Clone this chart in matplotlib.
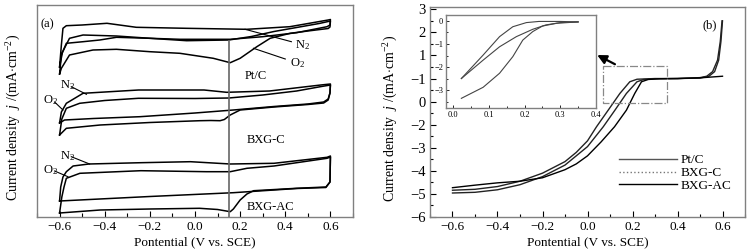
import matplotlib
matplotlib.use('Agg')
import matplotlib.pyplot as plt
from matplotlib.lines import Line2D
from matplotlib.ticker import MultipleLocator, FixedLocator, FixedFormatter

plt.rcParams['font.family'] = ['Liberation Serif', 'DejaVu Serif']
plt.rcParams['mathtext.fontset'] = 'custom'
plt.rcParams['mathtext.rm'] = 'Liberation Serif'
plt.rcParams['mathtext.it'] = 'Liberation Serif:italic'
plt.rcParams['font.size'] = 9


# (a) cyclic voltammograms, current in arbitrary offset units
ptc_n2_E = [-0.6, -0.592, -0.585, -0.57, -0.5, -0.39, -0.26, -0.04, 0.23, 0.42, 0.59, 0.6,
            0.598, 0.585, 0.45, 0.3, 0.156, -0.067, -0.2, -0.348, -0.496, -0.556, -0.587, -0.6]
ptc_n2_I = [150, 172, 188.7, 191.3, 192, 193.7, 189.7, 188.7, 187.7, 190.3, 197, 197.5,
            192, 190.3, 184.3, 180.3, 177.7, 177.7, 178.7, 181, 182, 178.7, 165, 150]
ptc_o2_E = [-0.6, -0.592, -0.57, -0.496, -0.422, -0.348, -0.2, -0.037, 0.15, 0.25, 0.35, 0.45, 0.55, 0.6,
            0.598, 0.59, 0.5, 0.422, 0.333, 0.274, 0.2, 0.156, 0.081, -0.067, -0.2, -0.348, -0.452, -0.556, -0.592, -0.6]
ptc_o2_I = [143, 162, 173.7, 175.3, 177, 179.7, 178.7, 176.3, 177, 180.5, 185.5, 189.5, 193.5, 196,
            190, 188.5, 186, 183.7, 178.7, 170.3, 158.7, 154.3, 158.7, 163.7, 165.3, 167.7, 167, 162, 148.7, 143]

bxgc_n2_E = [-0.6, -0.592, -0.57, -0.496, -0.25, 0.04, 0.14, 0.33, 0.557, 0.6,
             0.598, 0.59, 0.57, 0.5, 0.35, 0.17, 0.0, -0.244, -0.45, -0.578, -0.6]
bxgc_n2_I = [94, 105, 113.7, 123.7, 127, 127, 124.7, 126, 132, 133,
             124, 118, 115, 113, 110.5, 107, 104, 100.3, 98.5, 97, 94]
bxgc_o2_E = [-0.6, -0.59, -0.57, -0.511, -0.4, -0.251, 0.0, 0.15, 0.3, 0.45, 0.56, 0.6,
             0.598, 0.59, 0.57, 0.5, 0.35, 0.2, 0.156, 0.13, 0.111, 0.07, 0.022, -0.2, -0.42, -0.57, -0.6]
bxgc_o2_I = [82, 98, 108.7, 113.7, 116.5, 118.7, 118.5, 119, 122, 126, 130.5, 132,
             124, 117, 114, 112.5, 110, 107, 102, 97.5, 96.3, 96.5, 96.3, 94.5, 92, 88.7, 82]

bxgac_n2_E = [-0.6, -0.595, -0.585, -0.57, -0.54, -0.47, -0.24, -0.02, 0.156, 0.35, 0.585, 0.6,
              0.598, 0.58, 0.45, 0.17, -0.2, -0.6]
bxgac_n2_I = [16, 30, 40, 45.3, 51, 53, 54.3, 55.3, 53, 53.7, 59.7, 61,
              35, 29.5, 28.5, 24.3, 20.5, 16]
bxgac_o2_E = [-0.6, -0.59, -0.58, -0.57, -0.51, -0.24, 0.05, 0.156, 0.23, 0.35, 0.585, 0.6,
              0.598, 0.58, 0.45, 0.26, 0.23, 0.2, 0.17, 0.156, 0.1, 0.02, -0.2, -0.42, -0.6]
bxgac_o2_I = [4, 20, 30.3, 38.7, 43.7, 46.3, 45.3, 45.3, 48.7, 51, 58.7, 60,
              35, 30, 28.7, 26.3, 23, 17, 8, 5.3, 7.5, 8.7, 8, 7, 4]

# (b) LSV curves
lsv1_E = [-0.6, -0.5, -0.4, -0.3, -0.2, -0.1, -0.05, 0.0, 0.04, 0.092, 0.144, 0.188, 0.22, 0.3, 0.4, 0.5,
          0.53, 0.556, 0.578, 0.59, 0.598]
lsv1_j = [-4.84, -4.8, -4.68, -4.45, -4.1, -3.6, -3.2, -2.7, -2.09, -1.37, -0.645, -0.14, -0.03, 0.0, 0.0, 0.04,
          0.1, 0.3, 0.8, 1.6, 2.5]
lsv2_E = [-0.6, -0.5, -0.4, -0.3, -0.2, -0.1, -0.05, 0.0, 0.07, 0.122, 0.173, 0.22, 0.25, 0.3, 0.4, 0.5,
          0.54, 0.565, 0.583, 0.593, 0.6]
lsv2_j = [-4.96, -4.93, -4.82, -4.6, -4.25, -3.75, -3.35, -2.95, -2.09, -1.37, -0.645, -0.14, -0.04, -0.01, 0.0, 0.02,
          0.1, 0.3, 0.8, 1.6, 2.5]
lsv3_E = [-0.6, -0.5, -0.4, -0.3, -0.2, -0.1, -0.05, 0.0, 0.06, 0.12, 0.173, 0.21, 0.24, 0.27, 0.32, 0.4, 0.5, 0.6]
lsv3_j = [-4.73, -4.62, -4.52, -4.45, -4.3, -3.95, -3.7, -3.35, -2.75, -2.09, -1.37, -0.645, -0.14, -0.04, -0.01,
          0.0, 0.03, 0.1]

# inset
ins1_E = [0.023, 0.084, 0.13, 0.167, 0.205, 0.24, 0.3, 0.35]
ins1_j = [-2.5, -1.48, -0.68, -0.25, -0.07, -0.02, -0.02, -0.04]
ins2_E = [0.023, 0.084, 0.13, 0.177, 0.223, 0.26, 0.3, 0.35]
ins2_j = [-2.5, -1.7, -1.12, -0.68, -0.36, -0.17, -0.07, -0.04]
ins3_E = [0.023, 0.084, 0.13, 0.167, 0.195, 0.223, 0.25, 0.29, 0.35]
ins3_j = [-3.36, -2.88, -2.27, -1.55, -0.83, -0.46, -0.22, -0.1, -0.04]

yb_ticks = [3, 2, 1, 0, -1, -2, -3, -4, -5, -6]
yb_labels = ['3', '2', '1', '\u22121', '0', '\u22122', '\u22123', '\u22124', '\u22125', '\u22126']

W, H = 751, 252
frame = '#808080'
ylab = r'Current density  $\it{j}$ /(mA$\cdot$cm$^{-2}$)'
fig = plt.figure(figsize=(W / 100, H / 100), dpi=100)


def style_frame(ax):
    for s in ax.spines.values():
        s.set_color(frame)
        s.set_linewidth(1.0)


# ---------- (a) ----------
ax1 = fig.add_axes([37 / W, 35 / H, 316 / W, 212 / H])
style_frame(ax1)
for E, I in [(ptc_n2_E, ptc_n2_I), (ptc_o2_E, ptc_o2_I),
             (bxgc_n2_E, bxgc_n2_I), (bxgc_o2_E, bxgc_o2_I),
             (bxgac_n2_E, bxgac_n2_I), (bxgac_o2_E, bxgac_o2_I)]:
    ax1.plot(E, I, color='black', lw=1.1)
ax1.vlines(0.15, 0, 177, color='#666666', lw=1.2)
ax1.set_xlim(-0.7, 0.7)
ax1.set_ylim(0, 212)
ax1.xaxis.set_major_locator(MultipleLocator(0.2))
ax1.xaxis.set_minor_locator(MultipleLocator(0.1))
ax1.xaxis.set_major_formatter(lambda v, p: f'{v:.1f}'.replace('-', '\u2212'))
ax1.tick_params(axis='x', which='both', direction='in', width=0.8, pad=3, labelsize=9.5)
ax1.tick_params(axis='x', which='major', length=4)
ax1.tick_params(axis='x', which='minor', length=3)
ax1.tick_params(axis='y', left=False, labelleft=False)
ax1.set_xlabel('Pontential (V vs. SCE)', labelpad=2, fontsize=9.5)
ax1.set_ylabel(ylab, fontsize=10)
ax1.yaxis.set_label_coords(-0.045, 0.47)

ax1.text(-0.684, 193, '(a)', va='center', ha='left')
ax1.text(0.445, 172, 'N$_2$', ha='left', va='center')
ax1.plot([0.427, 0.222], [175.3, 187.7], color='black', lw=0.8)
ax1.text(0.42, 154, 'O$_2$', ha='left', va='center')
ax1.plot([0.4, 0.259], [158, 168.7], color='black', lw=0.8)
ax1.text(0.271, 141, 'Pt/C', ha='center', va='center')
ax1.text(-0.6, 132, 'N$_2$', ha='left', va='center')
ax1.plot([-0.548, -0.481], [130.3, 122.7], color='black', lw=0.8)
ax1.text(-0.675, 117, 'O$_2$', ha='left', va='center')
ax1.plot([-0.622, -0.585], [115, 107], color='black', lw=0.8)
ax1.text(0.316, 77, 'BXG-C', ha='center', va='center')
ax1.text(-0.6, 61, 'N$_2$', ha='left', va='center')
ax1.plot([-0.548, -0.467], [60.3, 53], color='black', lw=0.8)
ax1.text(-0.675, 47, 'O$_2$', ha='left', va='center')
ax1.plot([-0.622, -0.563], [46, 40.3], color='black', lw=0.8)
ax1.text(0.333, 10, 'BXG-AC', ha='center', va='center')

# ---------- (b) ----------
ax2 = fig.add_axes([430 / W, 35 / H, 315 / W, 210 / H])
style_frame(ax2)
ax2.plot(lsv1_E, lsv1_j, color='#222222', lw=1.0)
ax2.plot(lsv2_E, lsv2_j, color='#222222', lw=1.0)
ax2.plot(lsv3_E, lsv3_j, color='black', lw=1.0)
ax2.set_xlim(-0.7, 0.7)
ax2.set_ylim(-6, 3.1)
ax2.xaxis.set_major_locator(MultipleLocator(0.2))
ax2.xaxis.set_minor_locator(MultipleLocator(0.1))
ax2.xaxis.set_major_formatter(lambda v, p: f'{v:.1f}'.replace('-', '\u2212'))
ax2.yaxis.set_major_locator(FixedLocator(yb_ticks))
ax2.yaxis.set_major_formatter(FixedFormatter(yb_labels))
ax2.yaxis.set_minor_locator(MultipleLocator(0.5))
ax2.tick_params(which='both', direction='in', width=0.8, pad=3)
ax2.tick_params(which='major', length=4, labelsize=10.5)
ax2.tick_params(axis='x', which='major', labelsize=9.5)
ax2.tick_params(which='minor', length=2)
ax2.set_xlabel('Pontential (V vs. SCE)', labelpad=2, fontsize=9.5)
ax2.set_ylabel(ylab, fontsize=10)
ax2.yaxis.set_label_coords(-0.095, 0.47)
ax2.text(0.541, 2.32, '(b)', ha='center', va='center')

# zoom box and arrow
ax2.plot([0.067, 0.353, 0.353, 0.067, 0.067], [0.553, 0.553, -1.05, -1.05, 0.553],
         color='#888888', lw=0.9, ls='-.')
ax2.annotate('', xy=(0.043, 1.02), xytext=(0.122, 0.62),
             arrowprops=dict(arrowstyle='-|>,head_length=0.6,head_width=0.3',
                             color='black', lw=1.6, shrinkA=0, shrinkB=0))

handles = [Line2D([], [], color='#555555', lw=1.0),
           Line2D([], [], color='#777777', lw=1.0, ls=':'),
           Line2D([], [], color='black', lw=1.0)]
ax2.legend(handles, ['Pt/C', 'BXG-C', 'BXG-AC'], loc='upper left',
           bbox_to_anchor=(0.60, 0.3), frameon=False, handlelength=4.4,
           handletextpad=0.25, labelspacing=0.05, borderaxespad=0, borderpad=0,
           fontsize=9.5)

# ---------- inset ----------
axin = fig.add_axes([446 / W, 144 / H, 150 / W, 93 / H])
style_frame(axin)
for E, j in [(ins1_E, ins1_j), (ins2_E, ins2_j), (ins3_E, ins3_j)]:
    axin.plot(E, j, color='#444444', lw=0.8)
axin.set_xlim(-0.02, 0.4)
axin.set_ylim(-3.78, 0.26)
axin.xaxis.set_major_locator(MultipleLocator(0.1))
axin.xaxis.set_minor_locator(MultipleLocator(0.05))
axin.yaxis.set_major_locator(MultipleLocator(1))
axin.yaxis.set_minor_locator(MultipleLocator(0.5))
axin.xaxis.set_major_formatter(lambda v, p: f'{v:.1f}')
axin.yaxis.set_major_formatter(lambda v, p: f'{v:.0f}'.replace('-', '\u2212'))
axin.tick_params(which='both', direction='in', width=0.6, labelsize=6, pad=2)
axin.tick_params(which='major', length=2.5)
axin.tick_params(which='minor', length=1.5)

fig.savefig('out.png', dpi=100)
